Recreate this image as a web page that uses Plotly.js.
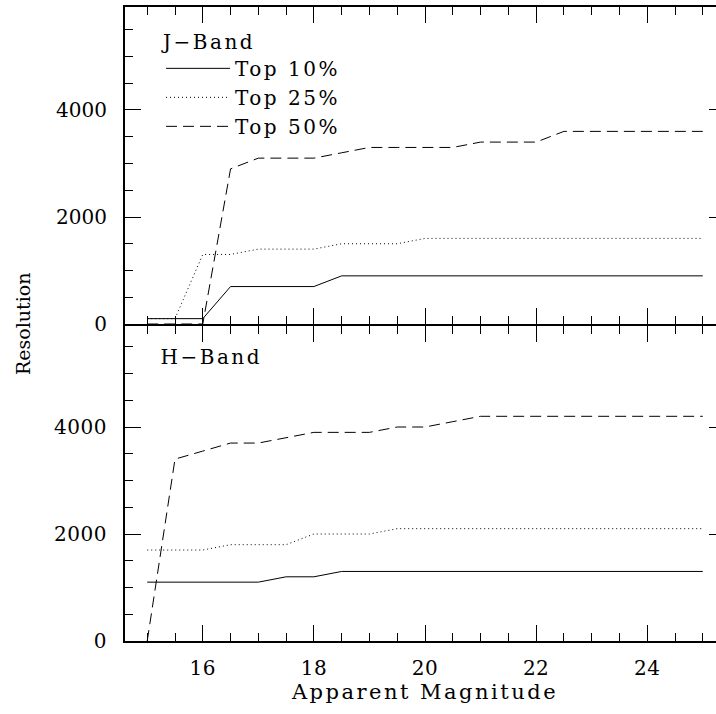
<!DOCTYPE html>
<html>
<head>
<meta charset="utf-8">
<script src="https://cdn.plot.ly/plotly-3.0.1.min.js"></script>
<style>
html, body { margin: 0; padding: 0; overflow: hidden; background: #fff; }
#chart { width: 740px; height: 714px; }
#chart .legend .scrollbox { clip-path: none !important; }
#chart .legendtext, #chart .legendtitletext { letter-spacing: 2.5px; }
#chart .annotation-text.hband { letter-spacing: 2.5px; }
#chart .xtitle { letter-spacing: 2.5px; }
#chart .xtick text, #chart .ytick text { letter-spacing: 0.5px; }
</style>
</head>
<body>
<div id="chart"></div>
<script>
// Apparent magnitude grid
const magnitudes = [15, 15.5, 16, 16.5, 17, 17.5, 18, 18.5, 19, 19.5, 20, 20.5, 21, 21.5, 22, 22.5, 23, 23.5, 24, 24.5, 25];

// J-Band resolution
const jTop10 = [100, 100, 100, 700, 700, 700, 700, 900, 900, 900, 900, 900, 900, 900, 900, 900, 900, 900, 900, 900, 900];
const jTop25 = [100, 100, 1300, 1300, 1400, 1400, 1400, 1500, 1500, 1500, 1600, 1600, 1600, 1600, 1600, 1600, 1600, 1600, 1600, 1600, 1600];
const jTop50 = [0, 0, 0, 2900, 3100, 3100, 3100, 3200, 3300, 3300, 3300, 3300, 3400, 3400, 3400, 3600, 3600, 3600, 3600, 3600, 3600];

// H-Band resolution
const hTop10 = [1100, 1100, 1100, 1100, 1100, 1200, 1200, 1300, 1300, 1300, 1300, 1300, 1300, 1300, 1300, 1300, 1300, 1300, 1300, 1300, 1300];
const hTop25 = [1700, 1700, 1700, 1800, 1800, 1800, 2000, 2000, 2000, 2100, 2100, 2100, 2100, 2100, 2100, 2100, 2100, 2100, 2100, 2100, 2100];
const hTop50 = [0, 3400, 3550, 3700, 3700, 3800, 3900, 3900, 3900, 4000, 4000, 4100, 4200, 4200, 4200, 4200, 4200, 4200, 4200, 4200, 4200];

const seriesNames = ['Top 10%', 'Top 25%', 'Top 50%'];
const bandLabels = ['J\u2212Band', 'H\u2212Band'];
const xTitle = 'Apparent Magnitude';
const yTitle = 'Resolution';

const FONT = 'DejaVu Serif';
const dashes = ['solid', '1px,3px', '11px,6px'];

function mk(y, i, xa, ya, legend) {
  return {
    x: magnitudes, y: y, type: 'scatter', mode: 'lines',
    name: seriesNames[i], xaxis: xa, yaxis: ya, showlegend: legend,
    line: {color: '#000', width: 1, dash: dashes[i]},
    hoverinfo: 'skip'
  };
}

const traces = [
  mk(jTop10, 0, 'x2', 'y2', true),
  mk(jTop25, 1, 'x2', 'y2', true),
  mk(jTop50, 2, 'x2', 'y2', true),
  mk(hTop10, 0, 'x', 'y', false),
  mk(hTop25, 1, 'x', 'y', false),
  mk(hTop50, 2, 'x', 'y', false)
];

const xBase = {
  range: [14.6, 25.4], dtick: 2, tick0: 16,
  ticks: 'inside', ticklen: 16, tickwidth: 1, tickcolor: '#000',
  minor: {dtick: 0.5, tick0: 15, ticks: 'inside', ticklen: 8, tickwidth: 1, tickcolor: '#000'},
  showline: true, linewidth: 2, linecolor: '#000', mirror: 'allticks',
  showgrid: false, zeroline: false,
  tickfont: {family: FONT, size: 20, color: '#000'}
};
const yBase = {
  dtick: 2000, tick0: 0,
  ticks: 'inside', ticklen: 16, tickwidth: 1, tickcolor: '#000',
  minor: {dtick: 500, tick0: 0, ticks: 'inside', ticklen: 8, tickwidth: 1, tickcolor: '#000'},
  showline: true, linewidth: 2, linecolor: '#000', mirror: 'allticks',
  showgrid: false, zeroline: false,
  tickfont: {family: FONT, size: 20, color: '#000'},
  ticklabelstandoff: 12
};

const layout = {
  width: 740, height: 714,
  margin: {l: 125, r: 15, t: 7, b: 73},
  paper_bgcolor: '#fff', plot_bgcolor: '#fff',
  font: {family: FONT, color: '#000'},
  xaxis: Object.assign({}, xBase, {anchor: 'y', domain: [0, 1], ticklabelstandoff: 8,
    title: {text: xTitle, font: {family: FONT, size: 21, color: '#000'}, standoff: 4}}),
  xaxis2: Object.assign({}, xBase, {anchor: 'y2', matches: 'x', showticklabels: false}),
  yaxis: Object.assign({}, yBase, {anchor: 'x', domain: [0, 0.5 - 2 / 634], range: [0, 5888]}),
  yaxis2: Object.assign({}, yBase, {anchor: 'x2', domain: [0.5, 1], range: [0, 5925]}),
  showlegend: true,
  legend: {
    x: 0.06, y: 0.975, xanchor: 'left', yanchor: 'top',
    bgcolor: 'rgba(0,0,0,0)', borderwidth: 0,
    font: {family: FONT, size: 20, color: '#000'},
    title: {text: bandLabels[0], font: {family: FONT, size: 20, color: '#000'}, side: 'top'},
    tracegroupgap: 0, itemwidth: 64
  },
  annotations: [
    {text: bandLabels[1], xref: 'paper', yref: 'paper', x: 0.068, y: 0.47, xanchor: 'left', yanchor: 'top',
     showarrow: false, font: {family: FONT, size: 20, color: '#000'}},
    {text: yTitle, xref: 'paper', yref: 'paper', x: -0.17, y: 0.5, xanchor: 'center', yanchor: 'middle',
     textangle: -90, showarrow: false, font: {family: FONT, size: 19, color: '#000'}}
  ]
};

Plotly.newPlot('chart', traces, layout, {displayModeBar: false, staticPlot: true}).then(function (gd) {
  const ann = gd.querySelectorAll('.annotation-text');
  if (ann.length) ann[0].classList.add('hband');
});
</script>
</body>
</html>
